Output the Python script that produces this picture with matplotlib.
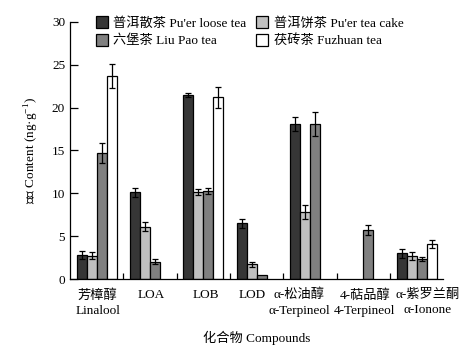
import numpy as np
import matplotlib
matplotlib.use('Agg')
import matplotlib.pyplot as plt

plt.rcParams['font.family'] = ['Liberation Serif', 'Noto Sans CJK SC']
plt.rcParams['font.size'] = 9.5
plt.rcParams['mathtext.fontset'] = 'custom'
plt.rcParams['mathtext.rm'] = 'Liberation Serif'

compounds = ['芳樟醇\nLinalool', 'LOA', 'LOB', 'LOD',
             'α-松油醇\nα-Terpineol', '4-萜品醇\n4-Terpineol', 'α-紫罗兰酮\nα-Ionone']
series = ["普洱散茶 Pu'er loose tea", '六堡茶 Liu Pao tea',
          "普洱饼茶 Pu'er tea cake", '茯砖茶 Fuzhuan tea']
nan = np.nan
# bar order within a group: loose, cake, Liu Pao, Fuzhuan
loose = [2.8, 10.1, 21.5, 6.5, 18.1, nan, 3.0]
loose_err = [0.5, 0.5, 0.2, 0.5, 0.8, nan, 0.55]
cake = [2.7, 6.1, 10.1, 1.7, 7.8, nan, 2.7]
cake_err = [0.4, 0.5, 0.35, 0.25, 0.85, nan, 0.45]
liupao = [14.7, 2.0, 10.3, 0.45, 18.1, 5.7, 2.3]
liupao_err = [1.2, 0.3, 0.35, nan, 1.4, 0.6, 0.25]
fuzhuan = [23.7, nan, 21.2, nan, nan, nan, 4.05]
fuzhuan_err = [1.4, nan, 1.2, nan, nan, nan, 0.45]

fig = plt.figure(figsize=(4.73, 3.6), dpi=100)
ax = fig.add_axes([0.148, 0.225, 0.789, 0.714])

x = np.arange(len(compounds)) + 0.5
w = 0.1875
data = [
    (loose, loose_err, '#363636', series[0]),
    (cake, cake_err, '#c0c0c0', series[2]),
    (liupao, liupao_err, '#808080', series[1]),
    (fuzhuan, fuzhuan_err, 'white', series[3]),
]
handles = {}
for i, (vals, errs, col, lab) in enumerate(data):
    pos = x + (i - 1.5) * w
    b = ax.bar(pos, vals, w, color=col, edgecolor='black', linewidth=0.9, label=lab)
    ax.errorbar(pos, vals, yerr=errs, fmt='none', ecolor='black', elinewidth=0.9,
                capsize=2, capthick=0.9)
    handles[lab] = b

ax.set_xlim(0, 7)
ax.set_ylim(0, 30)
ax.set_yticks([0, 5, 10, 15, 20, 25, 30])
ax.set_xticks(np.arange(1, 7))
ax.set_xticklabels([])
# label positions nudged as in the original so the long names don't collide
label_pos = x + np.array([0.02, 0.02, 0.05, -0.09, -0.2, 0.03, 0.2])
ax.set_xticks(label_pos, minor=True)
ax.set_xticklabels(compounds, minor=True, linespacing=1.4)
ax.tick_params(axis='x', which='major', direction='in', length=4, width=0.9)
ax.tick_params(axis='x', which='minor', length=0, pad=7)
ax.tick_params(axis='y', direction='in', length=6, width=0.9)
for s in ['top', 'right']:
    ax.spines[s].set_visible(False)
for s in ['left', 'bottom']:
    ax.spines[s].set_linewidth(0.9)

ax.set_ylabel('含量 Content (ng·g$^{-1}$)', labelpad=8)
ax.set_xlabel('化合物 Compounds', labelpad=10)

order = [series[0], series[1], series[2], series[3]]
ax.legend([handles[k] for k in order], order, ncol=2, frameon=False,
          loc='upper left', bbox_to_anchor=(0.188, 0.973), bbox_transform=fig.transFigure,
          borderpad=0, handlelength=0.95, handleheight=0.95, handletextpad=0.4,
          columnspacing=0.7, labelspacing=0.35)

fig.savefig('out.png', dpi=100)
